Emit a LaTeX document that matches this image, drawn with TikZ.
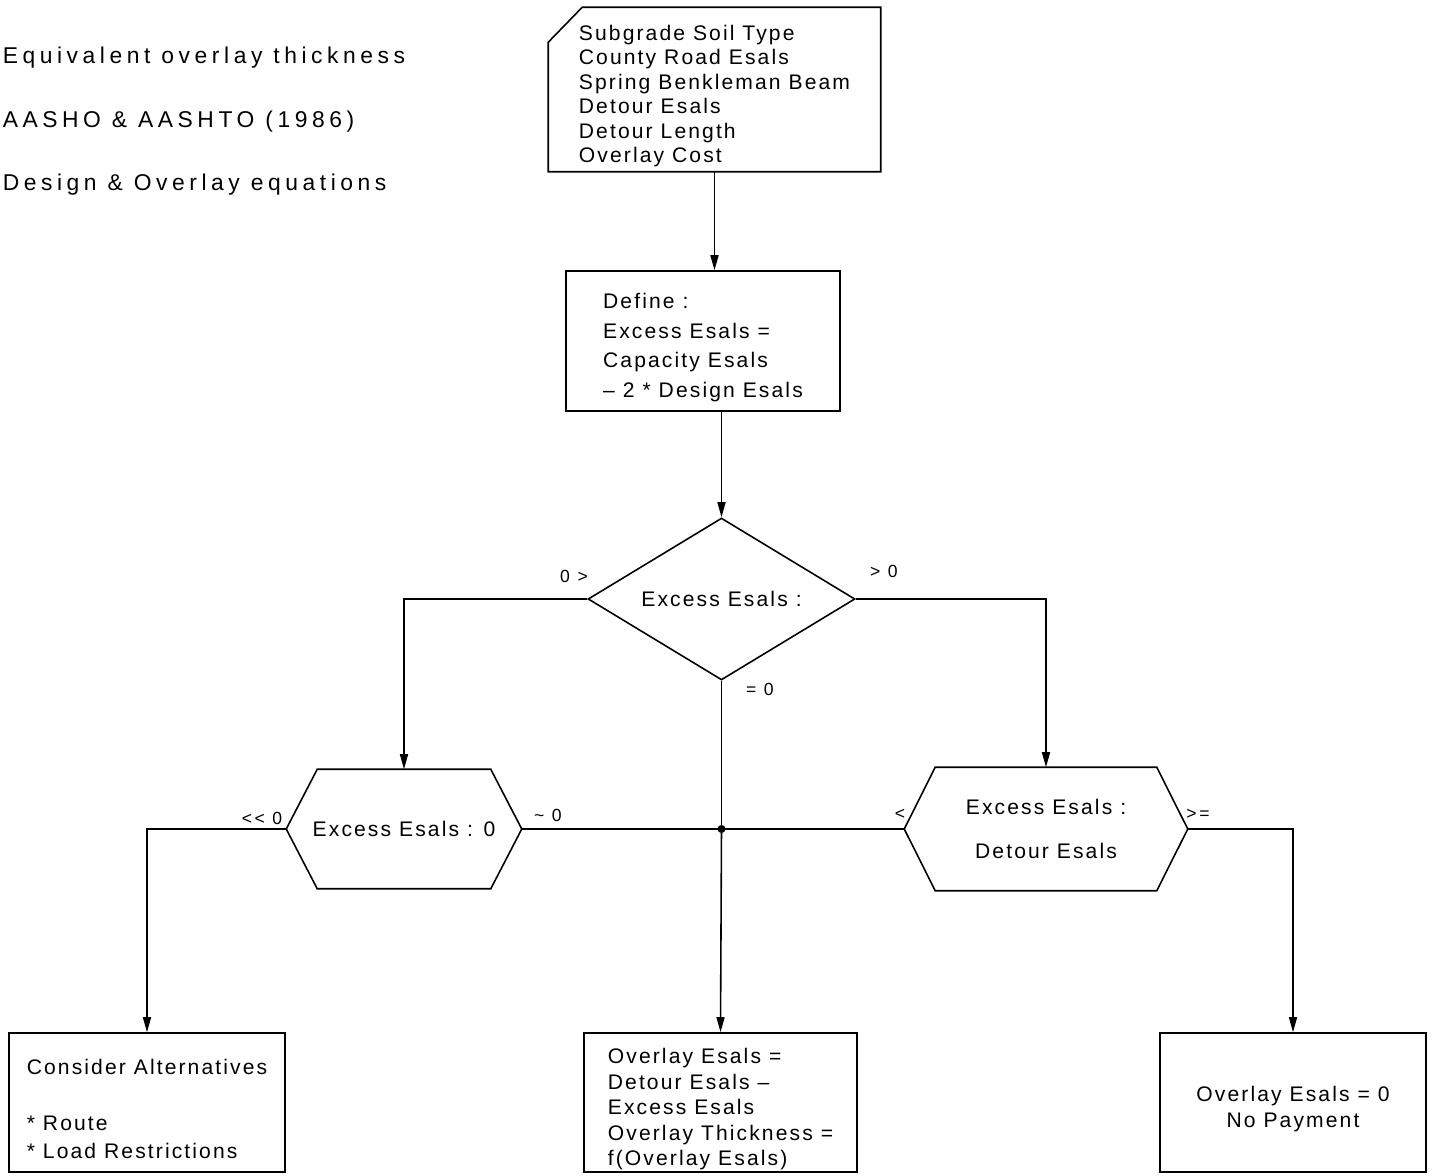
\documentclass[tikz,border=0pt]{standalone}
\usepackage{fontspec}
\newfontfamily\cadfont{Liberation Sans}[LetterSpace=10]
\newfontfamily\notefont{Liberation Sans}[LetterSpace=20]
\newfontfamily\labfont{Liberation Sans}[LetterSpace=15]
\newcommand\topgap{\rule{0pt}{1.35em}}
\usetikzlibrary{shapes.geometric,arrows.meta,calc}

\begin{document}
\begin{tikzpicture}[x=0.02cm,y=-0.02cm,
    line width=0.9pt,
    box/.style={rectangle,draw,align=left,inner sep=0pt,minimum height=2.78cm,font=\cadfont\fontsize{12}{14.5}\selectfont},
    decision/.style={diamond,draw,aspect=1.65,inner sep=0pt,minimum width=5.34cm,minimum height=3.24cm,font=\cadfont\fontsize{12}{14}\selectfont},
    hexa/.style={rectangle,inner sep=0pt,align=center,font=\cadfont\fontsize{12}{25.5}\selectfont},
    branch/.style={inner sep=1pt,font=\labfont\fontsize{10}{12}\selectfont},
    note/.style={anchor=base west,inner sep=0pt,font=\notefont\fontsize{13}{15}\selectfont},
    arr/.style={-{Triangle[length=0.3cm,width=0.16cm]}}
  ]
  \useasboundingbox (0,0) rectangle (1434,1176);

  % notes
  \node[note] (note1) at (2,64) {Equivalent overlay thickness};
  \node[note] (note2) at (2,128) {AASHO \& AASHTO (1986)};
  \node[note] (note3) at (2,191) {Design \& Overlay equations};

  % boxes
  \node[box,draw=none,minimum width=6.62cm,minimum height=3.26cm,font=\cadfont\fontsize{12}{13.9}\selectfont] (input) at (714.5,89.5)
    {\topgap Subgrade Soil Type\\County Road Esals\\Spring Benkleman Beam\\Detour Esals\\Detour Length\\Overlay Cost};
  \draw ($(input.north west)+(34,0)$) -- (input.north east) -- (input.south east)
    -- (input.south west) -- ($(input.north west)+(0,35)$) -- cycle;

  \node[box,minimum width=5.48cm,minimum height=2.8cm,font=\cadfont\fontsize{12}{17}\selectfont] (define) at (703,341)
    {\topgap Define :\\Excess Esals =\\Capacity Esals\\– 2 * Design Esals};

  \node[decision] (dia) at (721.5,599) {Excess Esals :};

  \node[hexa,minimum width=4.68cm,minimum height=2.36cm] (hexL) at (404,829) {Excess Esals : 0};
  \node[hexa,minimum width=5.64cm,minimum height=2.44cm] (hexR) at (1046,829) {Excess Esals :\\Detour Esals};
  \foreach \h in {hexL,hexR}
    \draw ($(\h.north west)+(31,0)$) -- ($(\h.north east)+(-31,0)$) -- (\h.east)
      -- ($(\h.south east)+(-31,0)$) -- ($(\h.south west)+(31,0)$) -- (\h.west) -- cycle;

  \node[box,minimum width=5.52cm,font=\cadfont\fontsize{12}{16}\selectfont] (alt) at (147,1102.5)
    {\topgap Consider Alternatives\\ \\* Route\\* Load Restrictions};
  \node[box,minimum width=5.46cm] (mid) at (720.5,1102.5)
    {\topgap Overlay Esals =\\Detour Esals –\\Excess Esals\\Overlay Thickness =\\f(Overlay Esals)};
  \node[box,align=center,minimum width=5.32cm] (pay) at (1293,1102.5)
    {\topgap Overlay Esals = 0\\No Payment};

  \coordinate (jn) at (dia.south |- hexL.east);

  % connectors
  \draw[arr] (input.south) -- (input.south |- define.north);
  \draw[arr] (dia.north |- define.south) -- (dia.north);
  \draw[arr] (dia.west) -| (hexL.north);
  \draw[arr] (dia.east) -| (hexR.north);
  \draw (dia.south) -- (jn);
  \draw[arr] (jn) -- (mid.north);
  \draw (hexL.east) -- (jn);
  \draw (hexR.west) -- (jn);
  \draw[arr] (hexL.west) -| (alt.north);
  \draw[arr] (hexR.east) -| (pay.north);
  \fill (jn) circle (0.08cm);

  % branch labels
  \node[branch] (lbllt) at (574,576) {0 >};
  \node[branch] (lblgt) at (884,571) {> 0};
  \node[branch] (lbleq) at (760,689) {= 0};
  \node[branch] (lblll) at (262,818) {<< 0};
  \node[branch] (lblap) at (548,815) {\textasciitilde{} 0};
  \node[branch] (lbls) at (900,814) {<};
  \node[branch] (lblge) at (1198,814) {>=};
\end{tikzpicture}
\end{document}
